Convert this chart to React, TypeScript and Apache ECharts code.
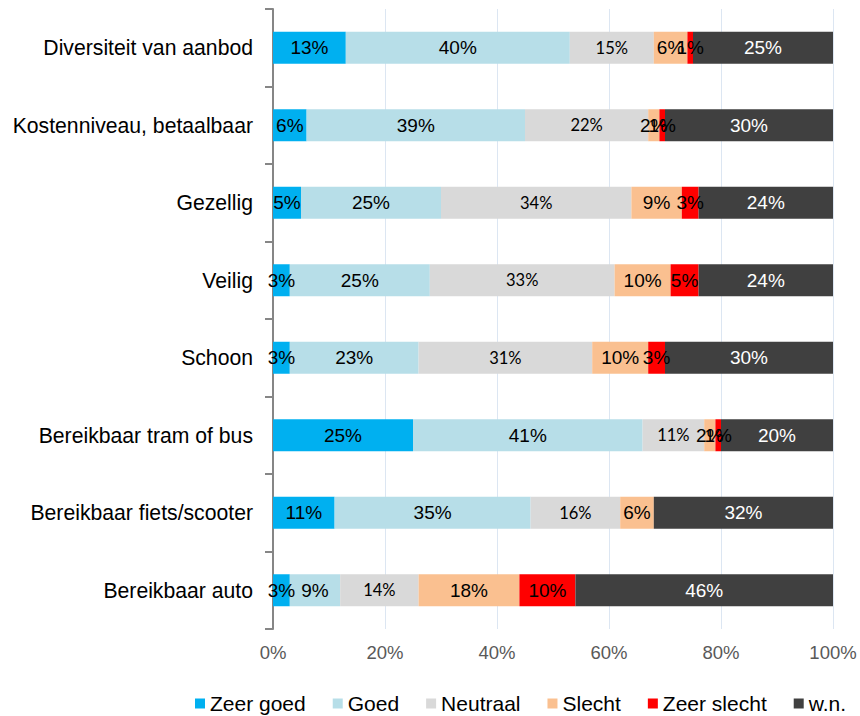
import React, { useEffect, useRef } from "react";
import * as echarts from "echarts";

const categories = [
  "Diversiteit van aanbod",
  "Kostenniveau, betaalbaar",
  "Gezellig",
  "Veilig",
  "Schoon",
  "Bereikbaar tram of bus",
  "Bereikbaar fiets/scooter",
  "Bereikbaar auto",
];

const zeerGoed = [13, 6, 5, 3, 3, 25, 11, 3];
const goed = [40, 39, 25, 25, 23, 41, 35, 9];
const neutraal = [15, 22, 34, 33, 31, 11, 16, 14];
const slecht = [6, 2, 9, 10, 10, 2, 6, 18];
const zeerSlecht = [1, 1, 3, 5, 3, 1, 0, 10];
const wn = [25, 30, 24, 24, 30, 20, 32, 46];

const xTicks = [0, 20, 40, 60, 80, 100];

const seriesDefs = [
  { name: "Zeer goed", data: zeerGoed, color: "#00b0f0", text: "#000", font: "Liberation Sans", size: 19 },
  { name: "Goed", data: goed, color: "#b7dee8", text: "#000", font: "Liberation Sans", size: 19 },
  { name: "Neutraal", data: neutraal, color: "#d9d9d9", text: "#000", font: "Lato", size: 16.5 },
  { name: "Slecht", data: slecht, color: "#fac090", text: "#000", font: "Liberation Sans", size: 19 },
  { name: "Zeer slecht", data: zeerSlecht, color: "#ff0000", text: "#000", font: "Liberation Sans", size: 19 },
  { name: "w.n.", data: wn, color: "#404040", text: "#fff", font: "Liberation Sans", size: 19 },
];

export default function App() {
  const ref = useRef<HTMLDivElement>(null);
  useEffect(() => {
    if (!ref.current) return;
    const chart = echarts.init(ref.current, null, { renderer: "svg" });
    chart.setOption({
      animation: false,
      backgroundColor: "#fff",
      grid: { left: 273, right: 27, top: 9, bottom: 87, containLabel: false },
      xAxis: {
        type: "value",
        min: 0,
        max: 100,
        interval: 20,
        axisLabel: {
          formatter: (v: number) => (xTicks.includes(v) ? v + "%" : ""),
          color: "#595959",
          fontFamily: "Liberation Sans",
          fontSize: 18.5,
          margin: 14,
        },
        axisLine: { show: false },
        axisTick: { show: false },
        splitLine: { show: true, lineStyle: { color: "#dce6f2", width: 1 } },
      },
      yAxis: {
        type: "category",
        data: categories,
        inverse: true,
        axisLine: { show: true, lineStyle: { color: "#868686", width: 2 } },
        axisTick: { show: true, length: 8, lineStyle: { color: "#868686", width: 2 } },
        axisLabel: {
          color: "#000",
          fontFamily: "Liberation Sans",
          fontSize: 21.2,
          margin: 20,
        },
      },
      legend: {
        left: 195,
        top: 693,
        padding: 0,
        icon: "rect",
        itemWidth: 10,
        itemHeight: 10,
        itemGap: 27,
        textStyle: { color: "#000", fontFamily: "Liberation Sans", fontSize: 21 },
        data: seriesDefs.map((s) => s.name),
      },
      series: seriesDefs.map((s) => ({
        name: s.name,
        type: "bar",
        stack: "total",
        barWidth: 32,
        data: s.data,
        itemStyle: { color: s.color },
        label: {
          show: true,
          position: "inside",
          color: s.text,
          fontFamily: s.font,
          fontSize: s.size,
          formatter: (p: any) => (p.value > 0 ? p.value + "%" : ""),
        },
      })),
    });
    return () => chart.dispose();
  }, []);
  return (
    <div
      ref={ref}
      style={{ position: "fixed", left: 0, top: 0, width: 860, height: 716 }}
    />
  );
}
